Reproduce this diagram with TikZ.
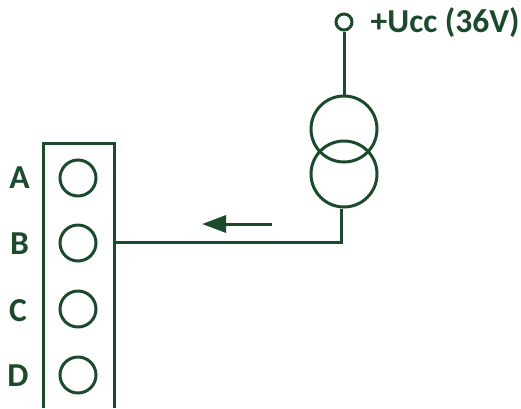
\documentclass[tikz,border=0pt]{standalone}
\usepackage{fontspec}
\setmainfont{Carlito}
\usetikzlibrary{arrows.meta}
\definecolor{dg}{HTML}{1C4A2C}
\tikzset{
  wire/.style={draw=dg,line width=3pt},
  pin/.style={circle,draw=dg,line width=3pt,minimum size=36pt,inner sep=0pt},
  coil/.style={circle,draw=dg,line width=3pt,minimum size=66pt,inner sep=0pt},
  term/.style={circle,draw=dg,line width=3pt,minimum size=16pt,inner sep=0pt},
  lab/.style={text=dg,font=\fontsize{33.5}{35}\selectfont\bfseries,inner sep=0pt}
}
\begin{document}
\begin{tikzpicture}[x=1pt,y=-1pt]
\useasboundingbox (0,0) rectangle (521,408);
\coordinate (bl) at (43,408);
\coordinate (tl) at (43,143);
\coordinate (tr) at (114,143);
\coordinate (br) at (114,408);
\draw[wire,line join=miter] (bl) -- (tl) -- (tr) -- (br);
\node[pin] (pa) at (78,178) {};
\node[pin] (pb) at (78,243) {};
\node[pin] (pc) at (78,309) {};
\node[pin] (pd) at (78,375) {};
\node[lab] (la) at (19.5,178) {A};
\node[lab] (lb) at (19.5,243.5) {B};
\node[lab] (lc) at (18,310.5) {C};
\node[lab] (ld) at (18,375.5) {D};
\node[term] (vcc) at (344,22) {};
\node[lab,anchor=west] (vl) at (370.5,22.5) {+Ucc (36V)};
\node[coil] (c1) at (344,129) {};
\node[coil] (c2) at (344,174) {};
\draw[wire] (vcc.south) -- (c1.north);
\coordinate (jb) at (114,242);
\coordinate (js) at (341,242);
\draw[wire] (c2.south -| js) -- (js) -- (jb);
\coordinate (as) at (272,224);
\coordinate (ae) at (202,224);
\draw[draw=dg,line width=3pt,-{Triangle[length=24pt,width=17pt,fill=dg]}] (as) -- (ae);
\end{tikzpicture}
\end{document}
